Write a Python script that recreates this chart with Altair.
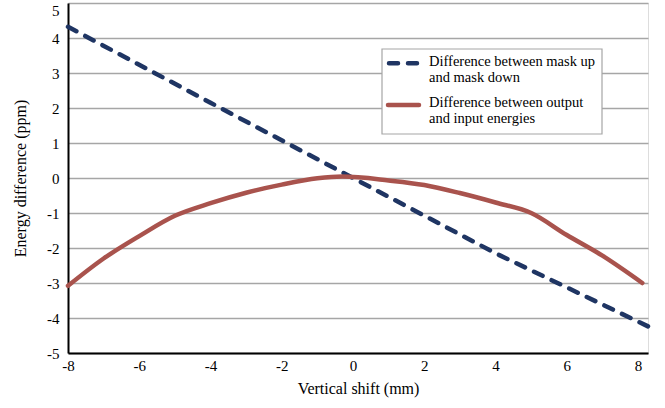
import altair as alt
import pandas as pd

# ---- data ----
shift_mask = [-8, -4, 0, 4, 8.28]
diff_mask = [4.32, 2.15, 0.0, -2.15, -4.24]

shift_energy = [-8, -7, -6, -5, -4, -3, -2, -1, -0.3, 1, 2, 3, 4, 5, 6, 7, 8.12]
diff_energy = [-3.08, -2.3, -1.66, -1.08, -0.72, -0.42, -0.19, -0.01, 0.04,
               -0.07, -0.2, -0.43, -0.70, -1.0, -1.63, -2.22, -3.0]

series_names = ["Difference between mask up\nand mask down",
                "Difference between output\nand input energies"]

x_ticks = [-8, -6, -4, -2, 0, 2, 4, 6, 8]
y_ticks = [-5, -4, -3, -2, -1, 0, 1, 2, 3, 4, 5]

FONT = "Liberation Serif"
NAVY = "#1f3563"
RED = "#a9534d"
GRID = "#a6a6a6"

LABEL_EXPR = "datum.value < 0 ? '-' + abs(datum.value) : '' + datum.value"

df_mask = pd.DataFrame({"x": shift_mask, "y": diff_mask})
df_energy = pd.DataFrame({"x": shift_energy, "y": diff_energy})

xscale = alt.Scale(domain=[-8, 8.28], nice=False, zero=False)
yscale = alt.Scale(domain=[-5, 5], nice=False, zero=False)

xaxis = alt.Axis(values=x_ticks, grid=False, ticks=False, domain=True,
                 domainColor="black", domainWidth=2,
                 labelFont=FONT, labelFontSize=15, labelColor="black",
                 labelPadding=5, labelExpr=LABEL_EXPR,
                 labelOverlap=False, labelFlush=False,
                 title="Vertical shift (mm)",
                 titleFont=FONT, titleFontSize=16, titleFontWeight="normal",
                 titleColor="black", titlePadding=7)
yaxis = alt.Axis(values=y_ticks, tickCount=11, grid=True, gridColor=GRID, gridWidth=1.5,
                 ticks=False, domain=True, domainColor="black", domainWidth=2,
                 labelFont=FONT, labelFontSize=15, labelColor="black",
                 labelPadding=9, labelExpr=LABEL_EXPR,
                 labelOverlap=False, labelFlush=False,
                 labelBaseline={"condition": {"test": "datum.value == 5", "value": "top"},
                                "value": "middle"},
                 title="Energy difference (ppm)",
                 titleFont=FONT, titleFontSize=16, titleFontWeight="normal",
                 titleColor="black", titleX=-40, titleAngle=270)

mask_line = alt.Chart(df_mask).mark_line(
    color=NAVY, strokeWidth=4.5, strokeDash=[9.5, 10], strokeCap="round"
).encode(x=alt.X("x:Q", scale=xscale, axis=xaxis),
         y=alt.Y("y:Q", scale=yscale, axis=yaxis))

energy_line = alt.Chart(df_energy).mark_line(
    color=RED, strokeWidth=4.5, strokeCap="round", strokeJoin="round",
    interpolate="monotone"
).encode(x=alt.X("x:Q", scale=xscale, axis=xaxis),
         y=alt.Y("y:Q", scale=yscale, axis=yaxis))

# ---- legend box ----
legend_box = alt.Chart().mark_rect(
    fill="white", stroke=GRID, strokeWidth=1.2
).encode(x=alt.value(314), x2=alt.value(534), y=alt.value(46), y2=alt.value(131))

leg_mask = alt.Chart().mark_rule(
    color=NAVY, strokeWidth=4.5, strokeDash=[9, 10], strokeCap="round"
).encode(x=alt.value(321), x2=alt.value(350), y=alt.value(60.3))

leg_energy = alt.Chart().mark_rule(
    color=RED, strokeWidth=4.5, strokeCap="round"
).encode(x=alt.value(320), x2=alt.value(351), y=alt.value(102))

leg_text1 = alt.Chart().mark_text(
    align="left", baseline="top", font=FONT, fontSize=14.5, color="black",
    lineBreak="\n", lineHeight=16
).encode(x=alt.value(361), y=alt.value(52), text=alt.value(series_names[0]))

leg_text2 = alt.Chart().mark_text(
    align="left", baseline="top", font=FONT, fontSize=14.5, color="black",
    lineBreak="\n", lineHeight=16
).encode(x=alt.value(361), y=alt.value(93), text=alt.value(series_names[1]))

chart = alt.layer(
    mask_line, energy_line, legend_box, leg_mask, leg_energy, leg_text1, leg_text2
).properties(
    width=580, height=350,
    autosize=alt.AutoSizeParams(type="none"),
    padding={"left": 68, "top": 3, "right": 17, "bottom": 55},
).configure_view(
    stroke="black", strokeWidth=1.8
).configure_axis(
    labelOverlap=False
).configure(background="white")

chart.save("out.html", embed_options={"renderer": "svg", "actions": False})
